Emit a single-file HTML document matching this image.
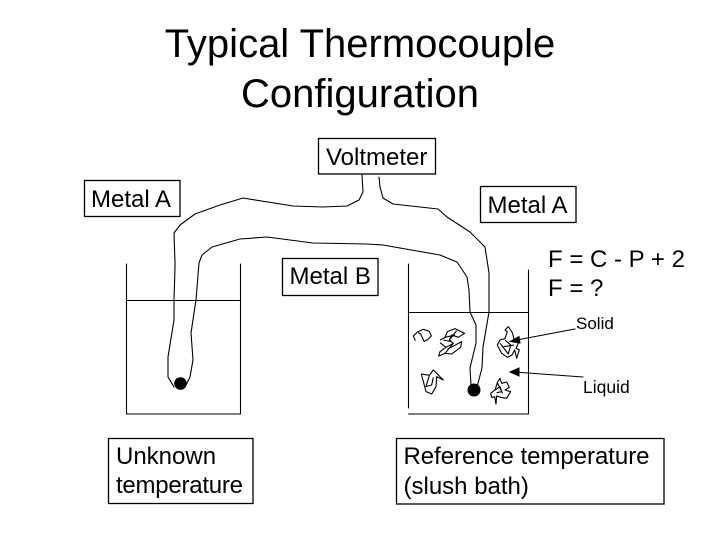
<!DOCTYPE html>
<html>
<head>
<meta charset="utf-8">
<style>
html,body{margin:0;padding:0;background:#fff;width:720px;height:540px;overflow:hidden}
svg{display:block}
text{font-family:"Liberation Sans",sans-serif;fill:#000}
.l{font-size:24px}
.t{font-size:40px;text-anchor:middle}
.s{font-size:17.5px}
.w{fill:none;stroke:#000;stroke-width:1.1;stroke-linejoin:round;stroke-linecap:round}
.b{fill:#fff;stroke:#000;stroke-width:1.3}
</style>
</head>
<body>
<svg width="720" height="540" viewBox="0 0 720 540" xmlns="http://www.w3.org/2000/svg">
<rect width="720" height="540" fill="#fff"/>
<text class="t" x="360" y="57">Typical Thermocouple</text>
<text class="t" x="360" y="107">Configuration</text>

<!-- beakers -->
<path class="w" d="M126.500 264V414H240.500V264M126.500 300.500H240.500"/>
<path class="w" d="M408.500 264V408M408.500 414H528.500V270M408.500 312.500H528.500"/>

<!-- wires -->
<path class="w" d="M362 175L363 192L359 200L347 206L323 207L293 206L243 198L220 205L195 214L180 225L174 233L175 263L175 267L174 300L174 320L168 357L168 377L174 387"/>
<path class="w" d="M379 177L380 187L383 198L393 204L438 209L447 217L470 232L485 247L489 273L489 312L483 347L482 368L477 387"/>
<path class="w" d="M186 385L190 377L193 360L191 333L196 300L199 263L202 255L212 247L240 239L267 237L313 243L367 244L383 245L440 255L457 262L467 277L469 290L470 312L476 325L476 343L470 368L471 385"/>
<circle cx="180.500" cy="383.500" r="6.300" fill="#000"/>
<circle cx="474" cy="390" r="6.500" fill="#000"/>

<!-- ice -->
<g transform="translate(390 290) scale(0.3333)" fill="none" stroke="#000" stroke-width="3.300" stroke-linejoin="round">
<path d="M76 152L70 138L82 126L100 118L118 124L124 138L112 150L102 154L92 132L84 128"/>
<path d="M150 150L165 142L172 125L195 116L224 130L205 142L185 135L178 150L190 160L168 172L150 158M178 150L200 122M190 160L165 190L146 198L150 185L168 172M172 178L215 155L212 172L185 192L165 190M165 142L195 135M160 150L185 155"/>
<path d="M345 120L355 110L368 130L372 148L385 160L378 175L388 180L380 205L374 180L366 195L352 202L335 190L322 165L330 150L345 146L352 125ZM330 160L355 192L362 165L345 150M340 170L372 165"/>
<path d="M94 252L118 256L130 240L160 270L140 260L138 290L125 312L108 305L94 252ZM118 256L108 290L125 285L130 262"/>
<path d="M302 310L315 300L322 278L330 265L335 280L350 276L358 292L345 300L362 305L350 325L332 322L320 318L318 342L314 320L305 322ZM315 300L330 290L335 305L320 308M322 278L338 310"/>
</g>

<!-- arrows -->
<path class="w" d="M575 329L514 340.500"/>
<path d="M510 341.500L519 336.500L520 343Z" fill="#000" stroke="#000"/>
<path class="w" d="M583 377L514 372"/>
<path d="M510 372L519 368L519 376Z" fill="#000" stroke="#000"/>
<text class="s" x="576" y="329" style="font-size:17px">Solid</text>
<text class="s" x="583" y="393">Liquid</text>

<!-- boxes -->
<rect class="b" x="318.500" y="138.500" width="117" height="35.500"/>
<text class="l" x="326" y="165">Voltmeter</text>
<rect class="b" x="84.500" y="180.500" width="95.500" height="36"/>
<text class="l" x="91" y="207">Metal A</text>
<rect class="b" x="480.500" y="186.500" width="95.500" height="36"/>
<text class="l" x="487.500" y="213">Metal A</text>
<rect class="b" x="282.500" y="258.500" width="95.500" height="37"/>
<text class="l" x="289.500" y="284">Metal B</text>
<text class="l" x="548" y="267">F = C - P + 2</text>
<text class="l" x="548" y="296">F = ?</text>
<rect class="b" x="108.500" y="438.500" width="144.500" height="65"/>
<text class="l" x="116" y="464">Unknown</text>
<text class="l" x="116" y="493" textLength="127">temperature</text>
<rect class="b" x="396.500" y="438.500" width="267.500" height="65.500"/>
<text class="l" x="403.500" y="464" textLength="246">Reference temperature</text>
<text class="l" x="403.500" y="494">(slush bath)</text>
</svg>
</body>
</html>
